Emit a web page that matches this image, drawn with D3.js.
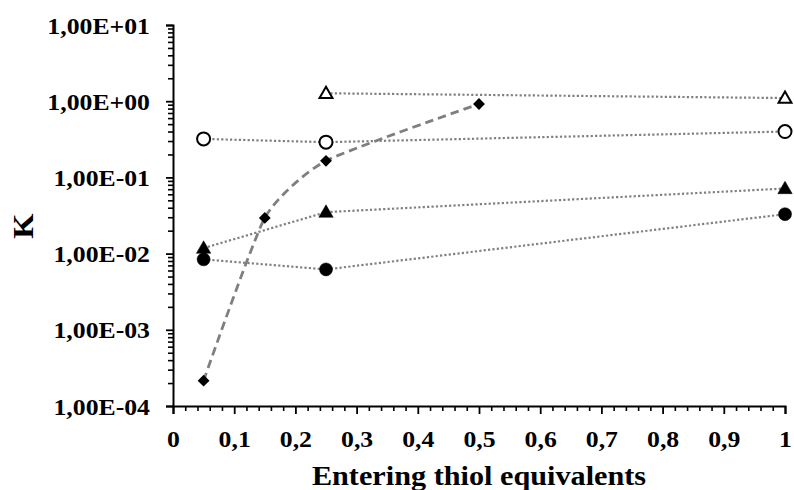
<!DOCTYPE html>
<html>
<head>
<meta charset="utf-8">
<script src="https://cdn.jsdelivr.net/npm/d3@7"></script>
<style>
  html, body { margin: 0; padding: 0; background: #fff; }
  svg { display: block; }
  text { font-family: "Liberation Serif", "Times New Roman", serif; font-weight: bold; fill: #000; }
</style>
</head>
<body>
<svg id="chart" width="794" height="490"></svg>
<script>
// Equilibrium constants K against equivalents of entering thiol
const openTriangleX = [0.25, 1];
const openTriangleK = [1.27, 1.1];

const openCircleX = [0.05, 0.25, 1];
const openCircleK = [0.32, 0.29, 0.40];

const diamondX = [0.05, 0.15, 0.25, 0.5];
const diamondK = [2.15e-4, 0.0294, 0.165, 0.92];

const filledTriangleX = [0.05, 0.25, 1];
const filledTriangleK = [0.0118, 0.035, 0.0715];

const filledCircleX = [0.05, 0.25, 1];
const filledCircleK = [0.0084, 0.0062, 0.0329];

const xTicks = [0, 0.1, 0.2, 0.3, 0.4, 0.5, 0.6, 0.7, 0.8, 0.9, 1];
const yTicks = [1e-4, 1e-3, 1e-2, 1e-1, 1, 10];
const yTickLabels = ["1,00E-04", "1,00E-03", "1,00E-02", "1,00E-01", "1,00E+00", "1,00E+01"];

const xTitle = "Entering thiol equivalents";
const yTitle = "K";

const svg = d3.select("#chart");
const m = { left: 173, top: 25, right: 9, bottom: 84 };
const W = 794, H = 490;
const stretch = 1.12;

const x = d3.scaleLinear().domain([0, 1]).range([m.left, W - m.right]);
const y = d3.scaleLog().domain([1e-4, 10]).range([H - m.bottom, m.top]);

// minor ticks
const xMinor = d3.range(0, 51).map(i => i / 50).filter(v => Math.round(v * 50) % 5 !== 0);
const yMinor = [];
for (let e = -4; e < 1; e++) for (let k = 2; k <= 9; k++) yMinor.push(k * Math.pow(10, e));

const axisG = svg.append("g");

// x axis: minor ticks
axisG.append("g")
  .attr("transform", `translate(0,${y(1e-4)})`)
  .call(d3.axisBottom(x).tickValues(xMinor).tickSize(5).tickFormat(""))
  .call(g => g.select(".domain").remove())
  .call(g => g.selectAll("line").attr("stroke", "#000").attr("stroke-width", 1.6));

// x axis: major ticks and labels
const xAxisG = axisG.append("g")
  .attr("transform", `translate(0,${y(1e-4)})`)
  .call(d3.axisBottom(x).tickValues(xTicks).tickSize(8).tickPadding(0)
    .tickFormat(d => String(d).replace(".", ",")));
xAxisG.select(".domain").attr("stroke", "#000").attr("stroke-width", 2);
xAxisG.selectAll("line").attr("stroke", "#000").attr("stroke-width", 1.8);
xAxisG.selectAll("text")
  .attr("y", null).attr("dy", null)
  .attr("transform", `translate(0,41) scale(${stretch},1)`)
  .style("font-size", "23px");

// y axis: minor ticks
axisG.append("g")
  .attr("transform", `translate(${x(0)},0)`)
  .call(d3.axisLeft(y).tickValues(yMinor).tickSize(5).tickFormat(""))
  .call(g => g.select(".domain").remove())
  .call(g => g.selectAll("line").attr("stroke", "#000").attr("stroke-width", 1.6));

// y axis: decades and labels
const yAxisG = axisG.append("g")
  .attr("transform", `translate(${x(0)},0)`)
  .call(d3.axisLeft(y).tickValues(yTicks).tickSize(7)
    .tickFormat((d, i) => yTickLabels[i]));
yAxisG.select(".domain").attr("stroke", "#000").attr("stroke-width", 2);
yAxisG.selectAll("line").attr("stroke", "#000").attr("stroke-width", 1.8);
yAxisG.selectAll("text")
  .attr("x", null).attr("dy", null)
  .attr("transform", `translate(-23,8) scale(${stretch},1)`)
  .style("font-size", "23px");

// axis titles
svg.append("text")
  .attr("transform", `translate(${(x(0) + x(1)) / 2},485) scale(${stretch},1)`)
  .attr("text-anchor", "middle")
  .style("font-size", "27px")
  .text(xTitle);

svg.append("text")
  .attr("transform", `translate(33,226) rotate(-90) scale(${stretch},1)`)
  .attr("text-anchor", "middle")
  .style("font-size", "29px")
  .text(yTitle);

// series
const zip = (xs, ks) => xs.map((v, i) => [v, ks[i]]);
const series = [
  { pts: zip(openTriangleX, openTriangleK), marker: "tri", fill: "#fff" },
  { pts: zip(openCircleX, openCircleK), marker: "circ", fill: "#fff" },
  { pts: zip(filledTriangleX, filledTriangleK), marker: "tri", fill: "#000" },
  { pts: zip(filledCircleX, filledCircleK), marker: "circ", fill: "#000" }
];
const diamond = zip(diamondX, diamondK);

const straight = d3.line().x(d => x(d[0])).y(d => y(d[1]));
const smooth = d3.line().x(d => x(d[0])).y(d => y(d[1])).curve(d3.curveCardinal.tension(0.45));

const lines = svg.append("g");
series.forEach(s => {
  lines.append("path")
    .attr("d", straight(s.pts))
    .attr("fill", "none")
    .attr("stroke", "#808080")
    .attr("stroke-width", 2.2)
    .attr("stroke-dasharray", "2.2 2.2");
});
lines.append("path")
  .attr("d", smooth(diamond))
  .attr("fill", "none")
  .attr("stroke", "#7f7f7f")
  .attr("stroke-width", 2.8)
  .attr("stroke-dasharray", "8.5 5");

const marks = svg.append("g");
const triSym = d3.symbol().type(d3.symbolTriangle);
series.forEach(s => {
  s.pts.forEach(p => {
    if (s.marker === "circ") {
      marks.append("circle")
        .attr("cx", x(p[0])).attr("cy", y(p[1]))
        .attr("r", 6.5)
        .attr("fill", s.fill)
        .attr("stroke", "#000")
        .attr("stroke-width", s.fill === "#000" ? 0.5 : 2);
    } else {
      marks.append("path")
        .attr("d", triSym.size(s.fill === "#000" ? 90 : 72)())
        .attr("transform", `translate(${x(p[0])},${y(p[1]) + 1})`)
        .attr("fill", s.fill)
        .attr("stroke", "#000")
        .attr("stroke-width", s.fill === "#000" ? 0.5 : 2);
    }
  });
});
diamond.forEach(p => {
  marks.append("path")
    .attr("d", d3.symbol().type(d3.symbolSquare).size(70)())
    .attr("transform", `translate(${x(p[0])},${y(p[1])}) rotate(45)`)
    .attr("fill", "#000");
});
</script>
</body>
</html>
